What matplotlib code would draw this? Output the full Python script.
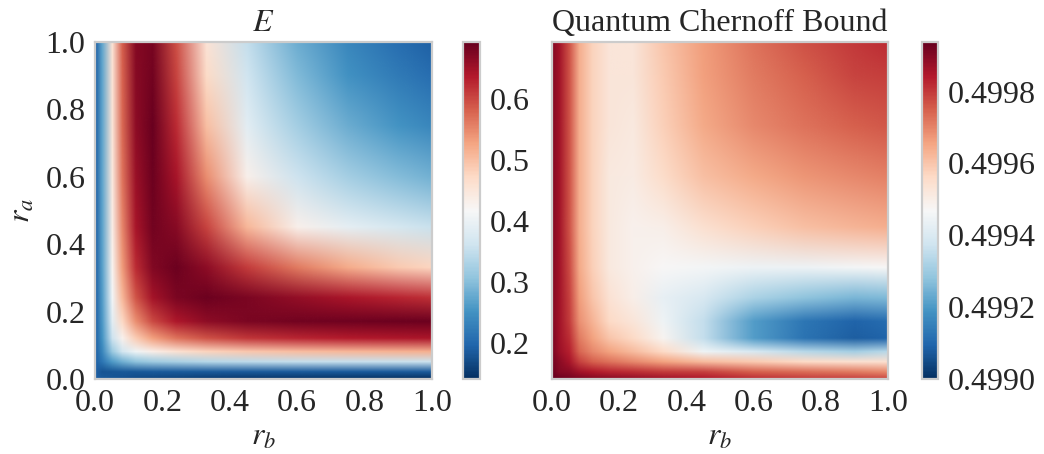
import numpy as np
import matplotlib
matplotlib.use("Agg")
import matplotlib.pyplot as plt
from matplotlib.colors import Normalize
from matplotlib.image import NonUniformImage

# grid nodes (same for both panels)
rb_nodes = [0.0, 0.02, 0.05, 0.08, 0.12, 0.17, 0.24, 0.33, 0.45, 0.6, 0.75, 0.9, 1.0]
ra_nodes = [0.0, 0.02, 0.05, 0.08, 0.12, 0.17, 0.24, 0.33, 0.45, 0.6, 0.75, 0.9, 1.0]

# E(ra, rb): rows = ra (ascending), columns = rb (ascending)
E_values = [
    [0.190, 0.185, 0.180, 0.175, 0.170, 0.165, 0.160, 0.155, 0.150, 0.147, 0.145, 0.143, 0.142],
    [0.190, 0.177, 0.181, 0.183, 0.183, 0.184, 0.184, 0.184, 0.185, 0.185, 0.185, 0.185, 0.185],
    [0.190, 0.216, 0.260, 0.283, 0.305, 0.318, 0.328, 0.337, 0.345, 0.350, 0.354, 0.356, 0.357],
    [0.190, 0.237, 0.315, 0.367, 0.405, 0.435, 0.460, 0.479, 0.492, 0.503, 0.510, 0.514, 0.516],
    [0.190, 0.251, 0.359, 0.428, 0.487, 0.531, 0.567, 0.594, 0.614, 0.627, 0.636, 0.641, 0.644],
    [0.190, 0.258, 0.388, 0.474, 0.545, 0.600, 0.640, 0.664, 0.677, 0.685, 0.687, 0.688, 0.688],
    [0.190, 0.263, 0.410, 0.510, 0.592, 0.648, 0.678, 0.688, 0.677, 0.661, 0.643, 0.629, 0.620],
    [0.190, 0.266, 0.427, 0.534, 0.623, 0.673, 0.689, 0.664, 0.610, 0.560, 0.520, 0.490, 0.476],
    [0.190, 0.268, 0.438, 0.552, 0.645, 0.685, 0.670, 0.605, 0.510, 0.430, 0.392, 0.368, 0.356],
    [0.190, 0.270, 0.447, 0.567, 0.657, 0.688, 0.646, 0.546, 0.430, 0.360, 0.322, 0.296, 0.283],
    [0.190, 0.271, 0.453, 0.575, 0.664, 0.690, 0.624, 0.500, 0.388, 0.322, 0.280, 0.251, 0.237],
    [0.190, 0.272, 0.457, 0.581, 0.669, 0.684, 0.605, 0.470, 0.362, 0.294, 0.250, 0.221, 0.206],
    [0.190, 0.273, 0.459, 0.584, 0.671, 0.681, 0.596, 0.455, 0.350, 0.279, 0.236, 0.206, 0.191],
]

# Quantum Chernoff bound(ra, rb): rows = ra (ascending), columns = rb (ascending)
QCB_values = [
    [0.499938, 0.499929, 0.499919, 0.499910, 0.499900, 0.499891, 0.499882, 0.499863, 0.499844, 0.499816, 0.499797, 0.499788, 0.499779],
    [0.499929, 0.499900, 0.499891, 0.499863, 0.499844, 0.499825, 0.499816, 0.499797, 0.499788, 0.499750, 0.499732, 0.499713, 0.499694],
    [0.499919, 0.499891, 0.499854, 0.499788, 0.499750, 0.499722, 0.499694, 0.499657, 0.499619, 0.499591, 0.499563, 0.499544, 0.499544],
    [0.499910, 0.499872, 0.499835, 0.499741, 0.499694, 0.499657, 0.499619, 0.499563, 0.499450, 0.499394, 0.499338, 0.499310, 0.499338],
    [0.499910, 0.499863, 0.499816, 0.499713, 0.499657, 0.499600, 0.499563, 0.499480, 0.499356, 0.499206, 0.499122, 0.499084, 0.499094],
    [0.499900, 0.499863, 0.499797, 0.499685, 0.499628, 0.499563, 0.499525, 0.499450, 0.499356, 0.499206, 0.499131, 0.499094, 0.499113],
    [0.499900, 0.499863, 0.499788, 0.499666, 0.499600, 0.499535, 0.499497, 0.499431, 0.499394, 0.499319, 0.499281, 0.499253, 0.499263],
    [0.499900, 0.499863, 0.499779, 0.499647, 0.499582, 0.499516, 0.499488, 0.499469, 0.499460, 0.499445, 0.499445, 0.499460, 0.499469],
    [0.499900, 0.499863, 0.499769, 0.499638, 0.499572, 0.499516, 0.499488, 0.499497, 0.499544, 0.499582, 0.499610, 0.499628, 0.499638],
    [0.499900, 0.499863, 0.499769, 0.499638, 0.499572, 0.499516, 0.499507, 0.499554, 0.499610, 0.499647, 0.499675, 0.499694, 0.499704],
    [0.499900, 0.499863, 0.499769, 0.499638, 0.499572, 0.499525, 0.499516, 0.499582, 0.499647, 0.499694, 0.499725, 0.499750, 0.499760],
    [0.499900, 0.499863, 0.499769, 0.499638, 0.499572, 0.499525, 0.499525, 0.499591, 0.499660, 0.499713, 0.499750, 0.499785, 0.499795],
    [0.499900, 0.499863, 0.499769, 0.499638, 0.499572, 0.499525, 0.499525, 0.499600, 0.499666, 0.499722, 0.499766, 0.499800, 0.499818],
]

axis_ticks = [0.0, 0.2, 0.4, 0.6, 0.8, 1.0]
E_cbar_ticks = [0.2, 0.3, 0.4, 0.5, 0.6]
QCB_cbar_ticks = [0.4990, 0.4992, 0.4994, 0.4996, 0.4998]
E_range = (0.140, 0.694)
QCB_range = (0.49900, 0.499938)

plt.rcParams['font.family'] = ['Liberation Serif', 'DejaVu Serif']
plt.rcParams['mathtext.fontset'] = 'stix'
TXT = '#262626'
SPINE = '#cccccc'
FS = 23

fig = plt.figure(figsize=(10.44, 4.54), dpi=100)
W, H = 1044.0, 454.0
bottom = 1 - 379 / H
height = 337 / H

ax1 = fig.add_axes([95 / W, bottom, 337 / W, height])
cax1 = fig.add_axes([463 / W, bottom, 17 / W, height])
ax2 = fig.add_axes([552 / W, bottom, 336 / W, height])
cax2 = fig.add_axes([922 / W, bottom, 16 / W, height])

X = np.array(rb_nodes)
Y = np.array(ra_nodes)


def field(ax, values, vrange):
    im = NonUniformImage(ax, interpolation='bilinear', extent=(0, 1, 0, 1),
                         cmap='RdBu_r', norm=Normalize(*vrange))
    im.set_data(X, Y, np.array(values))
    ax.add_image(im)
    return im


m1 = field(ax1, E_values, E_range)
m2 = field(ax2, QCB_values, QCB_range)

for ax in (ax1, ax2):
    ax.set_xlim(0, 1)
    ax.set_ylim(0, 1)
    ax.set_xticks(axis_ticks)
    ax.set_xticklabels([f"{t:.1f}" for t in axis_ticks])
    ax.tick_params(length=0, labelsize=FS, colors=TXT, pad=7)
    for s in ax.spines.values():
        s.set_edgecolor(SPINE)
        s.set_linewidth(1.6)
    ax.set_xlabel('$r_b$', fontsize=FS, color=TXT, labelpad=4)

ax1.set_yticks(axis_ticks)
ax1.set_yticklabels([f"{t:.1f}" for t in axis_ticks])
ax1.set_ylabel('$r_a$', fontsize=FS, color=TXT, labelpad=6)
ax2.set_yticks([])

ax1.set_title('$E$', fontsize=FS, color=TXT, pad=8)
ax2.set_title('Quantum Chernoff Bound', fontsize=FS, color=TXT, pad=8)

cb1 = fig.colorbar(m1, cax=cax1, ticks=E_cbar_ticks)
cb1.ax.set_yticklabels([f"{t:.1f}" for t in E_cbar_ticks])
cb2 = fig.colorbar(m2, cax=cax2, ticks=QCB_cbar_ticks)
cb2.ax.set_yticklabels([f"{t:.4f}" for t in QCB_cbar_ticks])
for cb in (cb1, cb2):
    cb.outline.set_edgecolor(SPINE)
    cb.outline.set_linewidth(1.6)
    cb.ax.tick_params(length=0, labelsize=FS, colors=TXT, pad=7)

fig.savefig('out.png', dpi=100)
